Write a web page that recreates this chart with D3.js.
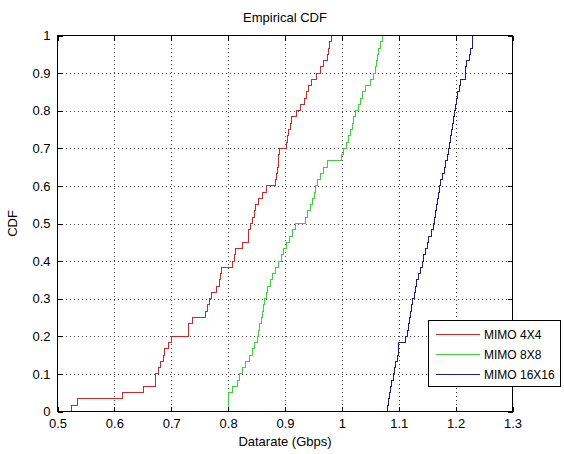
<!DOCTYPE html>
<html>
<head>
<meta charset="utf-8">
<script src="https://cdn.jsdelivr.net/npm/d3@7"></script>
<style>
body { margin: 0; background: #fff; }
text { font-family: "Liberation Sans", Arial, sans-serif; }
</style>
</head>
<body>
<div id="chart"></div>
<script>
// sorted samples, 60 per series
const seriesNames = ["MIMO 4X4", "MIMO 8X8", "MIMO 16X16"]
const seriesColors = ["#d02828", "#3cd23c", "#1c1c8c"]

const mimo4x4 = [
  0.524, 0.535, 0.615, 0.652, 0.672, 0.672, 0.678, 0.681, 0.686, 0.689,
  0.696, 0.700, 0.730, 0.731, 0.738, 0.760, 0.763, 0.768, 0.770, 0.780,
  0.784, 0.786, 0.789, 0.807, 0.811, 0.813, 0.825, 0.835, 0.836, 0.840,
  0.842, 0.846, 0.848, 0.854, 0.861, 0.867, 0.884, 0.885, 0.887, 0.888,
  0.889, 0.891, 0.903, 0.905, 0.906, 0.910, 0.912, 0.921, 0.928, 0.935,
  0.938, 0.942, 0.946, 0.956, 0.962, 0.968, 0.974, 0.976, 0.978, 0.981
]

const mimo8x8 = [
  0.800, 0.800, 0.801, 0.808, 0.816, 0.820, 0.825, 0.830, 0.838, 0.842,
  0.847, 0.851, 0.854, 0.856, 0.858, 0.860, 0.862, 0.864, 0.867, 0.870,
  0.874, 0.878, 0.883, 0.888, 0.893, 0.898, 0.903, 0.908, 0.913, 0.918,
  0.936, 0.939, 0.945, 0.948, 0.951, 0.954, 0.957, 0.962, 0.968, 0.974,
  1.000, 1.003, 1.009, 1.012, 1.015, 1.018, 1.021, 1.024, 1.030, 1.033,
  1.036, 1.042, 1.050, 1.056, 1.059, 1.061, 1.062, 1.065, 1.068, 1.071
]

const mimo16x16 = [
  1.080, 1.082, 1.084, 1.086, 1.088, 1.091, 1.093, 1.095, 1.097, 1.099,
  1.100, 1.1125, 1.115, 1.117, 1.119, 1.121, 1.123, 1.125, 1.127, 1.130,
  1.132, 1.135, 1.138, 1.141, 1.144, 1.147, 1.150, 1.153, 1.158, 1.161,
  1.163, 1.165, 1.166, 1.168, 1.170, 1.1715, 1.174, 1.177, 1.180, 1.182,
  1.185, 1.187, 1.189, 1.191, 1.193, 1.195, 1.197, 1.1985, 1.200, 1.202,
  1.204, 1.206, 1.208, 1.217, 1.218, 1.219, 1.225, 1.227, 1.229, 1.230
]

const xTicks = [0.5, 0.6, 0.7, 0.8, 0.9, 1.0, 1.1, 1.2, 1.3]
const xTickLabels = ["0.5", "0.6", "0.7", "0.8", "0.9", "1", "1.1", "1.2", "1.3"]
const yTicks = [0, 0.1, 0.2, 0.3, 0.4, 0.5, 0.6, 0.7, 0.8, 0.9, 1]
const yTickLabels = ["0", "0.1", "0.2", "0.3", "0.4", "0.5", "0.6", "0.7", "0.8", "0.9", "1"]

const width = 564
const height = 454
const plotLeft = 57.5, plotRight = 512.5, plotTop = 35.5, plotBottom = 411.5

const xScale = d3.scaleLinear().domain([0.5, 1.3]).range([plotLeft, plotRight])
const yScale = d3.scaleLinear().domain([0, 1]).range([plotBottom, plotTop])

const svg = d3.select('#chart').append('svg')
  .attr('width', width).attr('height', height)

svg.append('rect').attr('width', width).attr('height', height).attr('fill', '#fff')

// dotted grid
const grid = svg.append('g')
  .attr('stroke', '#444').attr('stroke-dasharray', '1,3').attr('shape-rendering', 'crispEdges')
grid.selectAll('.gx').data(xTicks.slice(1, -1)).enter().append('line')
  .attr('x1', d => Math.round(xScale(d)) + 0.5).attr('x2', d => Math.round(xScale(d)) + 0.5)
  .attr('y1', plotTop).attr('y2', plotBottom)
grid.selectAll('.gy').data(yTicks.slice(1, -1)).enter().append('line')
  .attr('y1', d => Math.round(yScale(d)) + 0.5).attr('y2', d => Math.round(yScale(d)) + 0.5)
  .attr('x1', plotLeft).attr('x2', plotRight)

// empirical cdf steps
const allSeries = [mimo4x4, mimo8x8, mimo16x16]
const stepLine = d3.line()
  .x(d => xScale(d[0]))
  .y(d => yScale(d[1]))
  .curve(d3.curveStepAfter)

allSeries.forEach(function(values, i) {
  const n = values.length
  const pts = [[values[0], 0]]
  values.forEach(function(v, j) {
    pts.push([v, (j + 1) / n])
  })
  svg.append('path')
    .datum(pts)
    .attr('d', stepLine)
    .attr('fill', 'none')
    .attr('stroke', seriesColors[i])
    .attr('stroke-width', 1)
    .attr('shape-rendering', 'crispEdges')
})

// axes with inward ticks on all four sides
function styleAxis(g) {
  g.select('.domain').remove()
  g.selectAll('line').attr('stroke', '#000').attr('shape-rendering', 'crispEdges')
  g.selectAll('text').attr('font-size', 13).attr('fill', '#000')
    .attr('font-family', '"Liberation Sans", Arial, sans-serif')
}

const xAxis = d3.axisBottom(xScale).tickValues(xTicks)
  .tickFormat((d, i) => xTickLabels[i]).tickSizeInner(-5).tickSizeOuter(0).tickPadding(7)
svg.append('g').attr('transform', 'translate(0,' + plotBottom + ')').call(xAxis).call(styleAxis)

const xAxisTop = d3.axisTop(xScale).tickValues(xTicks).tickFormat('').tickSizeInner(-5).tickSizeOuter(0)
svg.append('g').attr('transform', 'translate(0,' + plotTop + ')').call(xAxisTop).call(styleAxis)

const yAxis = d3.axisLeft(yScale).tickValues(yTicks)
  .tickFormat((d, i) => yTickLabels[i]).tickSizeInner(-5).tickSizeOuter(0).tickPadding(7)
svg.append('g').attr('transform', 'translate(' + plotLeft + ',0)').call(yAxis).call(styleAxis)

const yAxisRight = d3.axisRight(yScale).tickValues(yTicks).tickFormat('').tickSizeInner(-5).tickSizeOuter(0)
svg.append('g').attr('transform', 'translate(' + plotRight + ',0)').call(yAxisRight).call(styleAxis)

svg.append('rect')
  .attr('x', plotLeft).attr('y', plotTop).attr('width', plotRight - plotLeft).attr('height', plotBottom - plotTop)
  .attr('fill', 'none').attr('stroke', '#000').attr('shape-rendering', 'crispEdges')

// titles
svg.append('text').attr('x', (plotLeft + plotRight) / 2).attr('y', 22)
  .attr('text-anchor', 'middle').attr('font-size', 13).text('Empirical CDF')
svg.append('text').attr('x', (plotLeft + plotRight) / 2).attr('y', 446)
  .attr('text-anchor', 'middle').attr('font-size', 13).text('Datarate (Gbps)')
svg.append('text').attr('transform', 'translate(17,' + ((plotTop + plotBottom) / 2) + ') rotate(-90)')
  .attr('text-anchor', 'middle').attr('font-size', 13).text('CDF')

// legend
const legend = svg.append('g')
legend.append('rect')
  .attr('x', 428.5).attr('y', 320.5).attr('width', 132).attr('height', 66)
  .attr('fill', '#fff').attr('stroke', '#000').attr('shape-rendering', 'crispEdges')
seriesNames.forEach(function(name, i) {
  const y = 334.5 + i * 20
  legend.append('line')
    .attr('x1', 436).attr('x2', 480).attr('y1', y).attr('y2', y)
    .attr('stroke', seriesColors[i]).attr('shape-rendering', 'crispEdges')
  legend.append('text').attr('x', 484).attr('y', y).attr('dy', '0.35em')
    .attr('font-size', 12).text(name)
})
</script>
</body>
</html>
